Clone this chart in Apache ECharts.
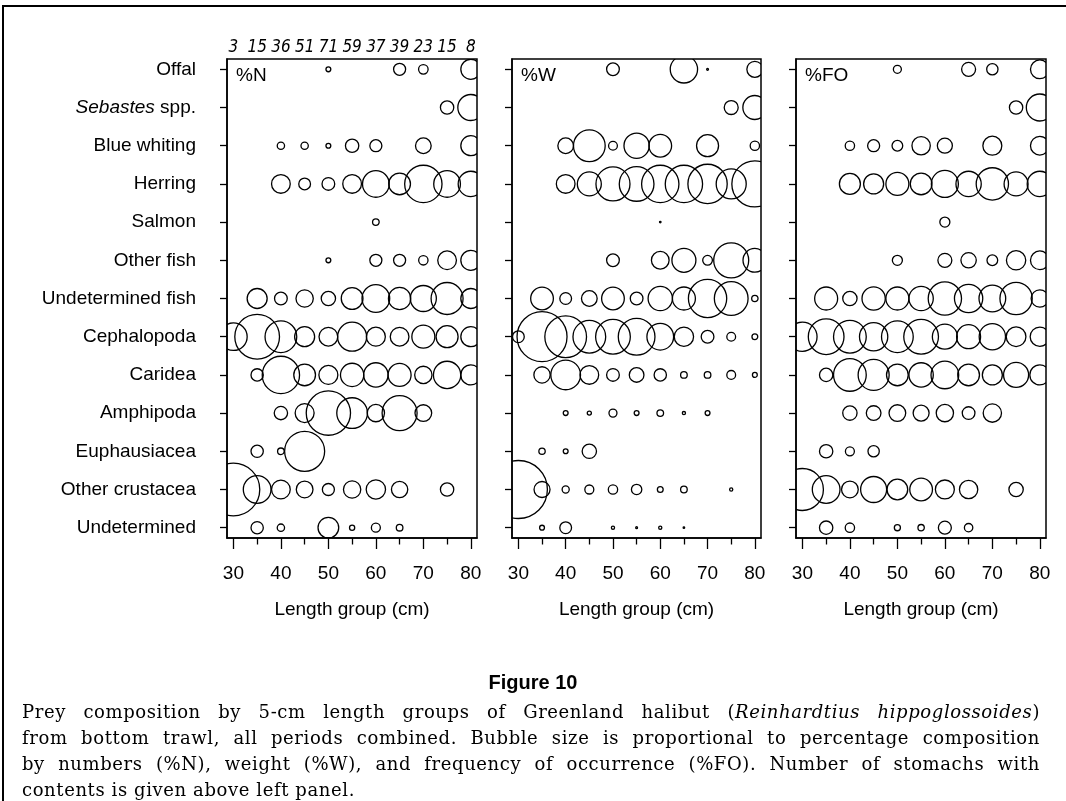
<!DOCTYPE html>
<html>
<head>
<meta charset="utf-8">
<script src="https://cdn.jsdelivr.net/npm/echarts@6/dist/echarts.min.js"></script>
<style>
  html, body { margin: 0; padding: 0; background: #fff; }
  #chart { position: absolute; left: 0; top: 0; width: 1066px; height: 801px; }
  #frame { position: absolute; left: 2px; top: 5px; right: -10px; bottom: -10px;
           border-top: 2px solid #000; border-left: 2px solid #000; }
  #figtitle { position: absolute; left: 0; width: 1066px; top: 670px; text-align: center;
              font-family: 'Liberation Sans Narrow', 'Liberation Sans', sans-serif;
              font-weight: bold; font-size: 20px; line-height: 24px; }
  .cap { position: absolute; left: 22px; width: 1018px; height: 26px; line-height: 26px;
         font-family: 'DejaVu Serif', serif; font-size: 18px; letter-spacing: 0.6px; color: #000;
         text-align: justify; text-align-last: justify; white-space: nowrap; }
  .cap.last { text-align-last: left; }
</style>
</head>
<body>
<div id="frame"></div>
<div id="chart"></div>
<div id="figtitle">Figure 10</div>
<div class="cap" style="top:699px">Prey composition by 5-cm length groups of Greenland halibut (<i>Reinhardtius hippoglossoides</i>)</div>
<div class="cap" style="top:725px">from bottom trawl, all periods combined. Bubble size is proportional to percentage composition</div>
<div class="cap" style="top:751px">by numbers (%N), weight (%W), and frequency of occurrence (%FO). Number of stomachs with</div>
<div class="cap last" style="top:777px">contents is given above left panel.</div>
<script>
var _ = null;

// length groups (cm) and number of stomachs with contents
var lengthGroups = [30, 35, 40, 45, 50, 55, 60, 65, 70, 75, 80];
var stomachCounts = [3, 15, 36, 51, 71, 59, 37, 39, 23, 15, 8];

var preyNames = ['Offal', 'Sebastes spp.', 'Blue whiting', 'Herring', 'Salmon', 'Other fish',
  'Undetermined fish', 'Cephalopoda', 'Caridea', 'Amphipoda', 'Euphausiacea',
  'Other crustacea', 'Undetermined'];

// %N  (rows = prey, columns = length groups 30..80)
var pctN = [
  [_, _, _, _, 0.7, _, _, 4.3, 2.7, _, 11.9],
  [_, _, _, _, _, _, _, _, _, 5.3, 20.1],
  [_, _, 1.6, 1.6, 0.7, 5.3, 4.3, _, 7.3, _, 11.9],
  [_, _, 10.4, 4.1, 4.8, 10.4, 21.2, 14.0, 41.4, 21.2, 19.0],
  [_, _, _, _, _, _, 1.3, _, _, _, _],
  [_, _, _, _, 0.7, _, 4.3, 4.3, 2.6, 10.4, 11.9],
  [_, 11.9, 4.8, 8.9, 6.1, 14.0, 22.8, 14.8, 20.1, 30.4, 11.9],
  [22.5, 59.4, 29.9, 11.9, 10.4, 25.0, 10.7, 10.4, 15.7, 14.4, 11.9],
  [_, 4.5, 41.4, 14.0, 10.7, 16.1, 17.6, 15.7, 8.9, 22.2, 11.9],
  [_, _, 5.3, 10.7, 58.3, 28.0, 8.9, 36.4, 8.3, _, _],
  [_, 4.5, 1.3, 47.6, _, _, _, _, _, _, _],
  [82.6, 22.8, 10.4, 8.3, 4.3, 8.9, 11.1, 7.9, _, 5.3, _],
  [_, 4.5, 1.6, _, 12.7, 0.8, 2.4, 1.3, _, _, _]
];

// %W
var pctW = [
  [_, _, _, _, 4.8, _, _, 22.2, 0.1, _, 7.6],
  [_, _, _, _, _, _, _, _, _, 5.8, 17.1],
  [_, _, 7.3, 29.9, 2.3, 19.0, 15.3, _, 14.4, _, 2.6],
  [_, _, 10.4, 17.1, 34.4, 35.8, 41.4, 41.4, 45.9, 26.8, 62.9],
  [_, _, _, _, _, _, 0.07, _, _, _, _],
  [_, _, _, _, 4.8, _, 9.3, 17.1, 2.8, 36.4, 16.7],
  [_, 15.3, 4.1, 7.3, 15.3, 4.8, 17.6, 15.7, 43.6, 33.8, 1.2],
  [4.1, 74.3, 51.7, 31.8, 35.8, 40.0, 21.2, 11.1, 4.8, 2.3, 1.0],
  [_, 7.9, 26.2, 10.4, 4.8, 6.4, 4.5, 1.3, 1.3, 2.3, 0.7],
  [_, _, 0.7, 0.5, 1.9, 0.7, 1.3, 0.3, 0.7, _, _],
  [_, 1.2, 0.7, 6.1, _, _, _, _, _, _, _],
  [100, 7.6, 1.5, 2.4, 2.6, 3.2, 1.0, 1.3, _, 0.3, _],
  [_, 0.7, 4.1, _, 0.3, 0.1, 0.3, 0.07, _, _, _]
];

// %FO
var pctFO = [
  [_, _, _, _, 1.9, _, _, 5.8, 3.8, _, 10.4],
  [_, _, _, _, _, _, _, _, _, 5.3, 21.7],
  [_, _, 2.6, 4.3, 3.4, 10.0, 6.7, _, 10.7, _, 10.4],
  [_, _, 13.1, 11.9, 15.7, 14.0, 21.7, 19.0, 31.0, 17.1, 19.0],
  [_, _, _, _, _, _, 3.0, _, _, _, _],
  [_, _, _, _, 3.0, _, 5.8, 7.0, 3.4, 11.1, 10.4],
  [_, 15.7, 6.1, 16.1, 15.7, 17.6, 33.0, 23.8, 21.2, 31.0, 9.0],
  [25.5, 37.9, 31.8, 23.8, 29.9, 35.8, 18.6, 17.1, 20.6, 11.5, 11.1],
  [_, 5.3, 31.8, 28.6, 14.0, 17.6, 22.8, 14.0, 11.9, 18.6, 11.9],
  [_, _, 6.1, 6.4, 8.3, 7.6, 8.9, 4.8, 10.0, _, _],
  [_, 5.3, 2.4, 3.8, _, _, _, _, _, _, _],
  [52.4, 22.8, 8.3, 20.1, 12.7, 15.3, 10.7, 10.0, _, 6.1, _],
  [_, 5.3, 2.6, _, 1.1, 1.2, 5.0, 2.1, _, _, _]
];

var panelLabels = ['%N', '%W', '%FO'];
var majorTicks = [30, 40, 50, 60, 70, 80];
var minorTicks = [35, 45, 55, 65, 75];
var rowTicks = preyNames.map(function (n, i) { return i; });

var chart = echarts.init(document.getElementById('chart'));

var FONT = "'Liberation Sans', Arial, sans-serif";
var grids = [
  { left: 227, top: 59, width: 250, height: 479 },
  { left: 512, top: 59, width: 249, height: 479 },
  { left: 796, top: 59, width: 250, height: 479 }
];
var xMin = 28.65, xMax = 81.3;

var xAxes = [], yAxes = [], series = [], graphics = [];
var tables = [pctN, pctW, pctFO];

// bubble area proportional to percentage
function bubbleRadius(pct) { return 2.9 * Math.sqrt(pct); }

grids.forEach(function (g, i) {
  g.show = true;
  g.borderColor = '#000';
  g.borderWidth = 1.5;
  g.backgroundColor = 'transparent';

  // main x axis: long ticks + labels
  xAxes.push({
    gridIndex: i, type: 'value', min: xMin, max: xMax, position: 'bottom',
    axisLine: { show: true, onZero: false, lineStyle: { color: '#000', width: 1.5 } },
    axisTick: { show: true, customValues: majorTicks, length: 11, lineStyle: { color: '#000', width: 1.3 } },
    axisLabel: { customValues: majorTicks, color: '#000', fontSize: 19, fontFamily: FONT, margin: 26 },
    splitLine: { show: false },
    name: 'Length group (cm)', nameLocation: 'middle', nameGap: 62,
    nameTextStyle: { color: '#000', fontSize: 19, fontFamily: FONT }
  });
  // minor x ticks (shorter)
  xAxes.push({
    gridIndex: i, type: 'value', min: xMin, max: xMax, position: 'bottom',
    axisLine: { show: false, onZero: false },
    axisTick: { show: true, customValues: minorTicks, length: 6.5, lineStyle: { color: '#000', width: 1.3 } },
    axisLabel: { show: false },
    splitLine: { show: false }
  });

  yAxes.push({
    gridIndex: i, type: 'value', inverse: true, min: -0.27, max: 12.27,
    axisLine: { show: true, onZero: false, lineStyle: { color: '#000', width: 1.5 } },
    axisTick: { show: true, customValues: rowTicks, length: 7, lineStyle: { color: '#000', width: 1.3 } },
    axisLabel: {
      show: i === 0, customValues: rowTicks, color: '#000', fontSize: 19, fontFamily: FONT, margin: 31,
      formatter: function (v) {
        var n = preyNames[Math.round(v)];
        if (n === 'Sebastes spp.') return '{i|Sebastes} spp.';
        return n;
      },
      rich: { i: { fontStyle: 'italic', fontSize: 19, fontFamily: FONT, color: '#000' } }
    },
    splitLine: { show: false }
  });

  var data = [];
  tables[i].forEach(function (row, r) {
    row.forEach(function (v, c) {
      if (v !== null) data.push([lengthGroups[c], r, v]);
    });
  });
  series.push({
    type: 'custom',
    xAxisIndex: i * 2, yAxisIndex: i,
    data: data,
    encode: { x: 0, y: 1 },
    clip: true,
    silent: true,
    renderItem: function (params, api) {
      var p = api.coord([api.value(0), api.value(1)]);
      return {
        type: 'circle',
        shape: { cx: p[0], cy: p[1], r: bubbleRadius(api.value(2)) },
        style: { fill: 'none', stroke: '#000', lineWidth: 1.3 }
      };
    },
    animation: false
  });

  graphics.push({
    type: 'text', left: g.left + 9, top: g.top + 7,
    style: { text: panelLabels[i], fill: '#000', font: '19px ' + FONT }
  });
});

// stomach counts above the left panel
xAxes.push({
  gridIndex: 0, type: 'value', min: xMin, max: xMax, position: 'top',
  axisLine: { show: false, onZero: false },
  axisTick: { show: false },
  axisLabel: {
    customValues: lengthGroups, margin: 3, color: '#000', fontSize: 17, fontStyle: 'italic',
    fontFamily: "'Liberation Sans Narrow', 'DejaVu Sans Condensed', sans-serif",
    formatter: function (v) { return String(stomachCounts[lengthGroups.indexOf(Math.round(v))]); }
  },
  splitLine: { show: false }
});

chart.setOption({
  animation: false,
  backgroundColor: 'transparent',
  grid: grids,
  xAxis: xAxes,
  yAxis: yAxes,
  series: series,
  graphic: graphics
});
</script>
</body>
</html>
